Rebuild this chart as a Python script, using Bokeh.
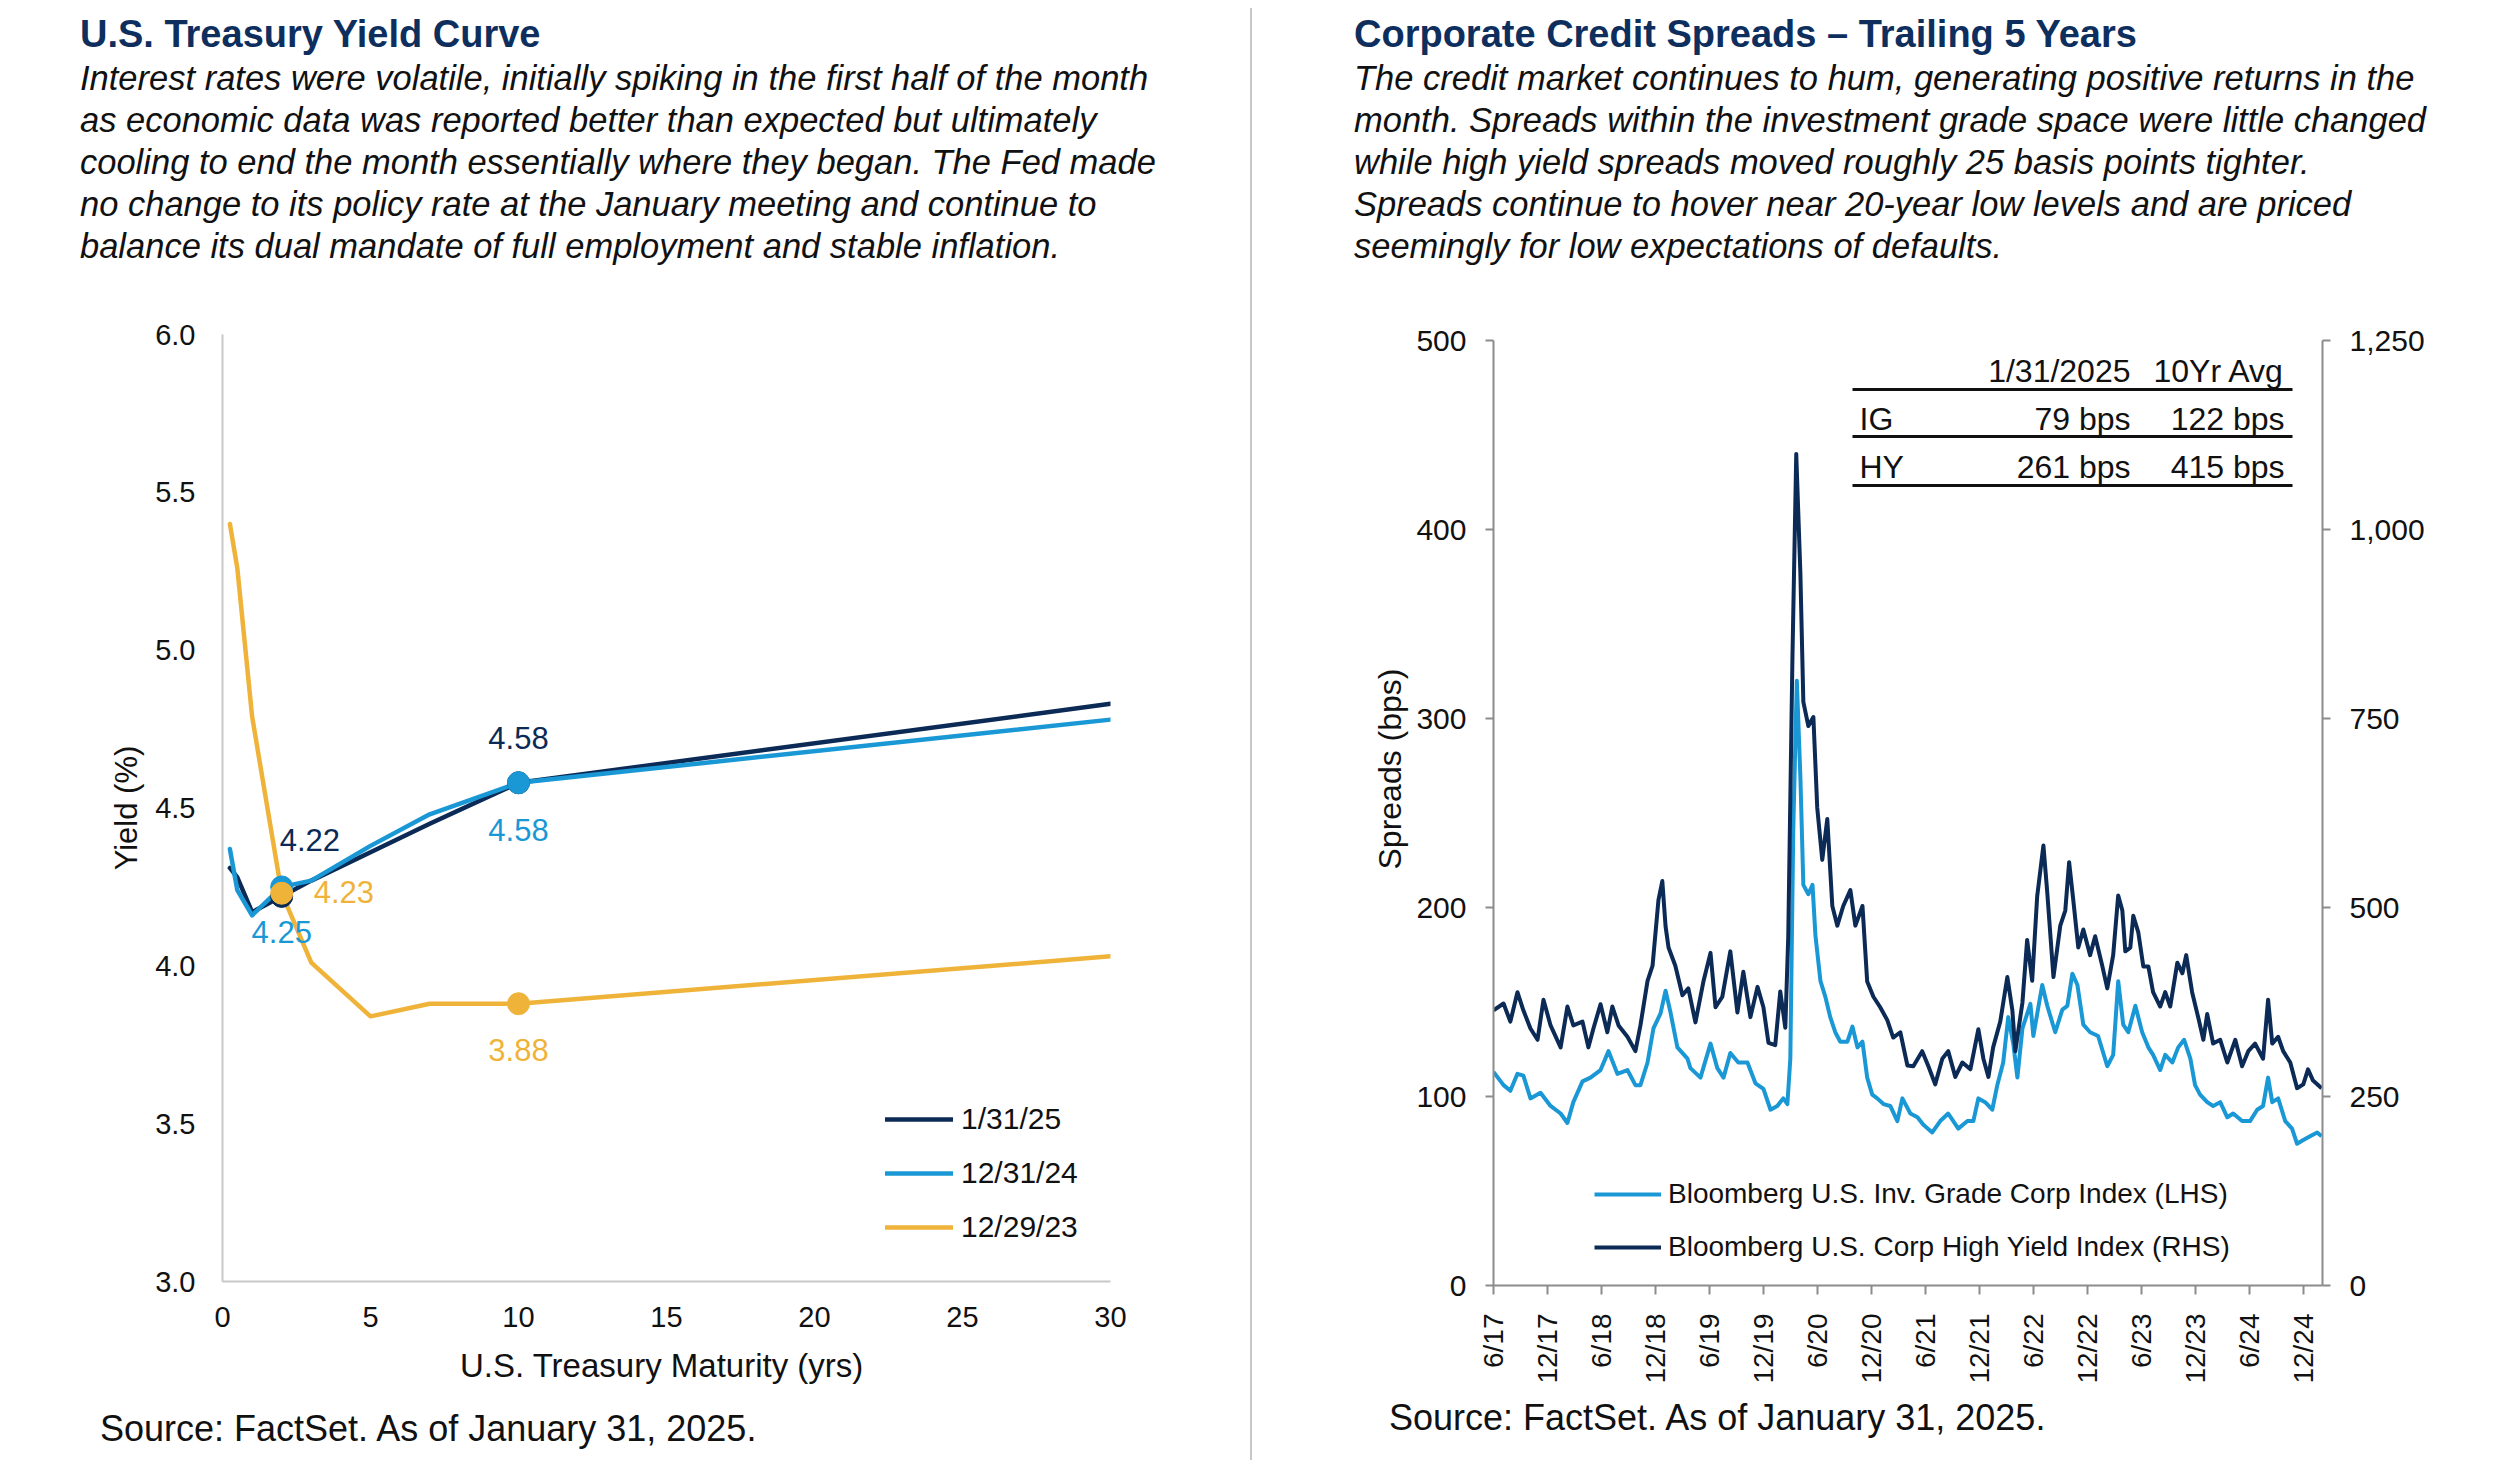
import math
import pandas as pd
from bokeh.plotting import figure
from bokeh.models import (Range1d, LinearAxis, Label, BoxAnnotation, Legend, LegendItem,
                          FixedTicker, NumeralTickFormatter, Div, Title, Spacer)
from bokeh.layouts import row, column
from bokeh.embed import file_html
from bokeh.resources import INLINE

FONT = "Liberation Sans"
NAVY = "#0B2A55"
LIGHT = "#1A98D5"
GOLD = "#EFB33A"
TITLE_C = "#0E2F5E"
TXT = "#111111"

# ---------------- Left chart data: U.S. Treasury yield curve ----------------
tenors = [0.25, 0.5, 1, 2, 3, 5, 7, 10, 30]
yield_jan25 = [4.31, 4.28, 4.17, 4.22, 4.27, 4.36, 4.45, 4.58, 4.83]
yield_dec24 = [4.37, 4.24, 4.16, 4.25, 4.27, 4.38, 4.48, 4.58, 4.78]
yield_dec23 = [5.40, 5.26, 4.79, 4.23, 4.01, 3.84, 3.88, 3.88, 4.03]
series_names = ["1/31/25", "12/31/24", "12/29/23"]
marker_tenors = [2, 10]
x_ticks_left = [0, 5, 10, 15, 20, 25, 30]
y_ticks_left = [3.0, 3.5, 4.0, 4.5, 5.0, 5.5, 6.0]

# ---------------- Right chart data: corporate credit spreads ----------------
hy_dates = ["2017-06-01", "2017-07-05", "2017-07-28", "2017-08-21", "2017-09-10", "2017-10-04",
            "2017-10-28", "2017-11-17", "2017-12-11", "2018-01-14", "2018-02-06", "2018-02-26",
            "2018-03-29", "2018-04-18", "2018-05-05", "2018-05-29", "2018-06-21", "2018-07-08",
            "2018-07-29", "2018-08-28", "2018-09-24", "2018-10-11", "2018-11-04", "2018-11-21",
            "2018-12-11", "2018-12-24", "2019-01-04", "2019-01-14", "2019-02-06", "2019-03-02",
            "2019-03-22", "2019-04-15", "2019-05-12", "2019-06-05", "2019-06-22", "2019-07-15",
            "2019-08-11", "2019-09-04", "2019-09-24", "2019-10-18", "2019-11-11", "2019-12-01",
            "2019-12-18", "2020-01-10", "2020-01-27", "2020-02-13", "2020-02-23", "2020-03-08",
            "2020-03-21", "2020-04-04", "2020-04-14", "2020-05-01", "2020-05-18", "2020-05-31",
            "2020-06-17", "2020-07-04", "2020-07-21", "2020-08-07", "2020-08-27", "2020-09-20",
            "2020-10-07", "2020-10-31", "2020-11-16", "2020-12-07", "2020-12-30", "2021-01-23",
            "2021-02-12", "2021-03-08", "2021-04-01", "2021-04-21", "2021-05-21", "2021-06-11",
            "2021-07-04", "2021-07-28", "2021-08-17", "2021-09-10", "2021-10-04", "2021-10-31",
            "2021-11-27", "2021-12-14", "2021-12-31", "2022-01-16", "2022-02-09", "2022-03-05",
            "2022-03-22", "2022-04-01", "2022-04-25", "2022-05-11", "2022-05-28", "2022-06-14",
            "2022-07-05", "2022-07-18", "2022-08-08", "2022-08-31", "2022-09-17", "2022-09-30",
            "2022-10-14", "2022-10-31", "2022-11-17", "2022-12-10", "2022-12-27", "2023-01-20",
            "2023-02-06", "2023-02-26", "2023-03-15", "2023-03-29", "2023-04-08", "2023-04-25",
            "2023-05-05", "2023-05-22", "2023-06-08", "2023-06-25", "2023-07-11", "2023-08-04",
            "2023-08-21", "2023-09-07", "2023-10-01", "2023-10-18", "2023-10-31", "2023-11-20",
            "2023-12-11", "2023-12-28", "2024-01-10", "2024-01-30", "2024-02-23", "2024-03-18",
            "2024-04-14", "2024-05-07", "2024-05-28", "2024-06-20", "2024-07-17", "2024-08-03",
            "2024-08-17", "2024-09-06", "2024-09-23", "2024-10-17", "2024-11-09", "2024-11-30",
            "2024-12-16", "2025-01-02", "2025-01-31"]
hy_spread = [364, 373, 349, 388, 364, 340,
             325, 378, 344, 315, 369, 344,
             349, 315, 340, 372, 335, 369,
             344, 329, 310, 344, 403, 423,
             510, 535, 475, 447, 423, 384,
             393, 348, 402, 440, 368, 382,
             442, 361, 415, 355, 395, 368,
             321, 318, 389, 341, 462, 827,
             1100, 942, 772, 740, 752, 632,
             563, 617, 502, 476, 502, 523,
             476, 502, 402, 382, 368, 351,
             328, 335, 291, 290, 310, 290,
             266, 300, 310, 276, 295, 286,
             339, 300, 276, 315, 349, 408,
             364, 310, 374, 457, 403, 515,
             582, 520, 408, 476, 496, 560,
             510, 447, 471, 437, 462, 423,
             393, 437, 516, 496, 442, 447,
             489, 467, 422, 422, 388, 369,
             388, 369, 427, 413, 437, 388,
             354, 325, 359, 320, 325, 295,
             325, 290, 310, 320, 300, 378,
             320, 329, 310, 295, 261, 266,
             286, 271, 261]

ig_dates = ["2017-06-01", "2017-07-05", "2017-07-28", "2017-08-21", "2017-09-10", "2017-10-04",
            "2017-11-07", "2017-12-11", "2018-01-14", "2018-02-06", "2018-02-26", "2018-03-29",
            "2018-04-25", "2018-05-29", "2018-06-25", "2018-07-25", "2018-08-28", "2018-09-24",
            "2018-10-11", "2018-11-04", "2018-11-24", "2018-12-18", "2019-01-04", "2019-01-20",
            "2019-02-13", "2019-03-19", "2019-03-29", "2019-05-02", "2019-06-05", "2019-06-28",
            "2019-07-19", "2019-08-11", "2019-09-07", "2019-10-08", "2019-11-04", "2019-12-01",
            "2019-12-25", "2020-01-17", "2020-02-06", "2020-02-20", "2020-03-01", "2020-03-11",
            "2020-03-23", "2020-04-04", "2020-04-14", "2020-05-01", "2020-05-15", "2020-05-25",
            "2020-06-11", "2020-06-27", "2020-07-14", "2020-07-31", "2020-08-17", "2020-09-10",
            "2020-09-27", "2020-10-14", "2020-10-31", "2020-11-16", "2020-12-03", "2020-12-20",
            "2021-01-10", "2021-02-02", "2021-02-26", "2021-03-15", "2021-04-11", "2021-05-05",
            "2021-05-25", "2021-06-24", "2021-07-21", "2021-08-17", "2021-09-20", "2021-10-21",
            "2021-11-10", "2021-11-27", "2021-12-20", "2022-01-13", "2022-01-30", "2022-02-19",
            "2022-03-08", "2022-03-25", "2022-04-08", "2022-04-25", "2022-05-22", "2022-06-01",
            "2022-07-01", "2022-07-18", "2022-08-14", "2022-09-07", "2022-09-24", "2022-10-11",
            "2022-10-28", "2022-11-17", "2022-12-10", "2023-01-06", "2023-02-06", "2023-02-26",
            "2023-03-15", "2023-04-01", "2023-04-18", "2023-05-12", "2023-06-04", "2023-06-25",
            "2023-07-11", "2023-08-04", "2023-08-21", "2023-09-14", "2023-10-04", "2023-10-24",
            "2023-11-14", "2023-11-30", "2023-12-17", "2024-01-10", "2024-01-30", "2024-02-23",
            "2024-03-18", "2024-04-07", "2024-05-07", "2024-06-03", "2024-06-27", "2024-07-17",
            "2024-08-03", "2024-08-17", "2024-09-06", "2024-09-30", "2024-10-23", "2024-11-09",
            "2024-11-30", "2024-12-23", "2025-01-16", "2025-01-31"]
ig_spread = [113, 106, 103, 112, 111, 99,
             102, 95, 91, 86, 97, 108,
             110, 114, 124, 112, 114, 106,
             106, 118, 136, 144, 156, 145,
             126, 120, 115, 110, 128, 115,
             110, 123, 118, 118, 107, 104,
             93, 95, 99, 96, 120, 242,
             320, 269, 212, 207, 212, 185,
             161, 153, 142, 134, 129, 129,
             137, 126, 129, 110, 101, 99,
             96, 95, 87, 99, 91, 89,
             85, 81, 87, 91, 83, 87,
             87, 99, 97, 93, 106, 118,
             142, 128, 110, 136, 149, 132,
             159, 148, 134, 146, 148, 165,
             159, 138, 134, 132, 116, 122,
             161, 138, 134, 148, 134, 126,
             122, 114, 122, 118, 126, 130,
             120, 106, 101, 97, 95, 97,
             89, 91, 87, 87, 93, 95,
             110, 97, 99, 87, 83, 75,
             77, 79, 81, 79]

x_tick_dates = ["2017-06-01", "2017-12-01", "2018-06-01", "2018-12-01", "2019-06-01", "2019-12-01",
                "2020-06-01", "2020-12-01", "2021-06-01", "2021-12-01", "2022-06-01", "2022-12-01",
                "2023-06-01", "2023-12-01", "2024-06-01", "2024-12-01"]
x_tick_labels = ["6/17", "12/17", "6/18", "12/18", "6/19", "12/19", "6/20", "12/20", "6/21",
                 "12/21", "6/22", "12/22", "6/23", "12/23", "6/24", "12/24"]
ig_ticks = [0, 100, 200, 300, 400, 500]
hy_ticks = [0, 250, 500, 750, 1000, 1250]

table_header = ["", "1/31/2025", "10Yr Avg"]
table_rows = [["IG", "79 bps", "122 bps"], ["HY", "261 bps", "415 bps"]]

left_title = "U.S. Treasury Yield Curve"
left_text = ["Interest rates were volatile, initially spiking in the first half of the month",
             "as economic data was reported better than expected but ultimately",
             "cooling to end the month essentially where they began. The Fed made",
             "no change to its policy rate at the January meeting and continue to",
             "balance its dual mandate of full employment and stable inflation."]
right_title = "Corporate Credit Spreads \u2013 Trailing 5 Years"
right_text = ["The credit market continues to hum, generating positive returns in the",
              "month. Spreads within the investment grade space were little changed",
              "while high yield spreads moved roughly 25 basis points tighter.",
              "Spreads continue to hover near 20-year low levels and are priced",
              "seemingly for low expectations of defaults."]
source_text = "Source: FactSet. As of January 31, 2025."

ASC = 0.8465  # baseline position within a line box of line-height 1 (Liberation Sans)


def abs_text(x, baseline, text, size, weight="normal", style="normal", color=TXT):
    top = baseline - ASC * size
    return (f'<div style="position:absolute;left:{x}px;top:{top:.1f}px;'
            f"font-family:'{FONT}';font-size:{size}px;line-height:1;font-weight:{weight};"
            f'font-style:{style};color:{color};white-space:nowrap;">{text}</div>')


def header_div(width, x0, title, lines):
    parts = [abs_text(x0, 39, title, 38, weight="bold", color=TITLE_C)]
    for i, ln in enumerate(lines):
        parts.append(abs_text(x0, 82 + 42 * i, ln, 34.5, style="italic"))
    html = (f'<div style="position:relative;width:{width}px;height:300px;">'
            + "".join(parts) + "</div>")
    return Div(text=html, width=width, height=300, margin=0)


def footer_div(width, height, x0, baseline):
    html = (f'<div style="position:relative;width:{width}px;height:{height}px;">'
            + abs_text(x0, baseline, source_text, 36) + "</div>")
    return Div(text=html, width=width, height=height, margin=0)


# ======================= LEFT FIGURE =======================
p1 = figure(width=1242, height=1102, output_backend="svg", toolbar_location=None,
            x_range=Range1d(0, 30), y_range=Range1d(3, 6), margin=0,
            min_border_left=214, min_border_right=140, min_border_top=26, min_border_bottom=129)
p1.outline_line_color = None
p1.grid.visible = False
p1.background_fill_color = "white"
p1.border_fill_color = "white"

for ax in (p1.xaxis[0], p1.yaxis[0]):
    ax.axis_line_color = "#C8C8C8"
    ax.axis_line_width = 2
    ax.major_tick_out = 0
    ax.major_tick_in = 0
    ax.minor_tick_out = 0
    ax.minor_tick_in = 0
    ax.major_label_text_font = FONT
    ax.major_label_text_font_size = "29px"
    ax.major_label_text_color = TXT
    ax.axis_label_text_font = FONT
    ax.axis_label_text_font_style = "normal"
    ax.axis_label_text_color = TXT
p1.xaxis.ticker = FixedTicker(ticks=x_ticks_left)
p1.yaxis.ticker = FixedTicker(ticks=y_ticks_left)
p1.yaxis.formatter = NumeralTickFormatter(format="0.0")
p1.xaxis.major_label_standoff = 25
p1.yaxis.major_label_standoff = 27
p1.xaxis.axis_label = "U.S. Treasury  Maturity (yrs)"
p1.xaxis.axis_label_text_font_size = "33px"
p1.xaxis.axis_label_standoff = 17
p1.yaxis.axis_label = "Yield (%)"
p1.yaxis.axis_label_text_font_size = "31px"
p1.yaxis.axis_label_standoff = 8

curves = [(yield_jan25, NAVY), (yield_dec24, LIGHT), (yield_dec23, GOLD)]
curve_r = []
for ys, col in curves:
    curve_r.append(p1.line(tenors, ys, line_color=col, line_width=4.5,
                           line_join="round", line_cap="round"))
for ys, col in curves:
    my = [ys[tenors.index(t)] for t in marker_tenors]
    p1.scatter(marker_tenors, my, size=22, fill_color=col, line_color=col)


def val(ys, t):
    return ys[tenors.index(t)]


lab_specs = [
    (2, val(yield_jan25, 2), NAVY, "left", -2, 56),
    (2, val(yield_dec23, 2), GOLD, "left", 32, 1),
    (2, val(yield_dec24, 2), LIGHT, "center", 0, -45),
    (10, val(yield_jan25, 10), NAVY, "center", 0, 45),
    (10, val(yield_dec24, 10), LIGHT, "center", 0, -47),
    (10, val(yield_dec23, 10), GOLD, "center", 0, -46),
]
for x, y, col, al, xo, yo in lab_specs:
    p1.add_layout(Label(x=x, y=y, text=f"{y:.2f}", x_offset=xo, y_offset=yo,
                        text_font=FONT, text_font_size="31px", text_color=col,
                        text_align=al, text_baseline="middle"))

leg1 = Legend(items=[LegendItem(label=n, renderers=[r]) for n, r in zip(series_names, curve_r)],
              location=(663, 37), orientation="vertical", glyph_width=68, glyph_height=34,
              label_height=34, spacing=20, label_standoff=8, padding=0, margin=0,
              border_line_color=None, background_fill_alpha=0,
              label_text_font=FONT, label_text_font_size="30px", label_text_color=TXT)
p1.add_layout(leg1)

left_col = column(header_div(1242, 72, left_title, left_text), p1,
                  footer_div(1242, 50, 92, 31), spacing=0, margin=0)

# ======================= RIGHT FIGURE =======================
x0 = pd.Timestamp("2017-06-01")
x1 = pd.Timestamp("2025-02-03")
p2 = figure(width=1240, height=1092, output_backend="svg", toolbar_location=None,
            x_axis_type="datetime", x_range=Range1d(x0, x1), y_range=Range1d(0, 500), margin=0,
            min_border_left=241, min_border_right=170, min_border_top=32, min_border_bottom=115)
p2.outline_line_color = None
p2.grid.visible = False
p2.background_fill_color = "white"
p2.border_fill_color = "white"
p2.extra_y_ranges = {"hy": Range1d(0, 1250)}
p2.add_layout(LinearAxis(y_range_name="hy"), "right")

ig_x = pd.to_datetime(ig_dates)
hy_x = pd.to_datetime(hy_dates)
ig_r = p2.line(ig_x, ig_spread, line_color=LIGHT, line_width=4, line_join="round")
hy_r = p2.line(hy_x, hy_spread, line_color=NAVY, line_width=4, line_join="round", y_range_name="hy")

tick_ms = [int(pd.Timestamp(d).value // 10**6) for d in x_tick_dates]
p2.xaxis.ticker = FixedTicker(ticks=tick_ms)
p2.xaxis.major_label_overrides = {k: v for k, v in zip(tick_ms, x_tick_labels)}
p2.xaxis.major_label_orientation = math.pi / 2
p2.yaxis[0].ticker = FixedTicker(ticks=ig_ticks)
p2.yaxis[1].ticker = FixedTicker(ticks=hy_ticks)
p2.yaxis[1].formatter = NumeralTickFormatter(format="0,0")
for ax in list(p2.xaxis) + list(p2.yaxis):
    ax.axis_line_color = "#8C8C8C"
    ax.axis_line_width = 2
    ax.major_tick_line_color = "#8C8C8C"
    ax.major_tick_line_width = 2
    ax.major_tick_in = 0
    ax.major_tick_out = 8
    ax.minor_tick_out = 0
    ax.minor_tick_in = 0
    ax.major_label_text_font = FONT
    ax.major_label_text_color = TXT
    ax.major_label_text_font_size = "30px"
    ax.major_label_standoff = 19
p2.xaxis.major_tick_out = 9
p2.xaxis.major_label_text_font_size = "28px"
p2.xaxis.major_label_standoff = 19

p2.add_layout(Title(text="Spreads (bps)", align="left", offset=416, standoff=12,
                    text_font=FONT, text_font_size="32px", text_font_style="normal",
                    text_color=TXT), "left")

leg2 = Legend(items=[LegendItem(label="Bloomberg U.S. Inv. Grade Corp Index (LHS)", renderers=[ig_r]),
                     LegendItem(label="Bloomberg U.S. Corp High Yield Index (RHS)", renderers=[hy_r])],
              location=(101, 22), orientation="vertical", glyph_width=67, glyph_height=32,
              label_height=32, spacing=21, label_standoff=7, padding=0, margin=0,
              border_line_color=None, background_fill_alpha=0,
              label_text_font=FONT, label_text_font_size="28px", label_text_color=TXT)
p2.add_layout(leg2)

# summary table, canvas units of the right figure
col_x = [607, 878, 1032]
for j in (1, 2):
    p2.add_layout(Label(x=col_x[j], y=62, x_units="canvas", y_units="canvas", text=table_header[j],
                        text_font=FONT, text_font_size="32px", text_color=TXT,
                        text_align="right", text_baseline="alphabetic"))
for i, r in enumerate(table_rows):
    for j, al in ((0, "left"), (1, "right"), (2, "right")):
        p2.add_layout(Label(x=col_x[j], y=110 + 48 * i, x_units="canvas", y_units="canvas",
                            text=r[j], text_font=FONT, text_font_size="32px", text_color=TXT,
                            text_align=al, text_baseline="alphabetic"))
for yl in (81, 128, 177):
    p2.add_layout(BoxAnnotation(left=600, right=1040, top=yl - 1.5, bottom=yl + 1.5,
                                left_units="canvas", right_units="canvas",
                                top_units="canvas", bottom_units="canvas",
                                fill_color="#111111", fill_alpha=1, line_color=None))

right_col = column(header_div(1240, 102, right_title, right_text), p2,
                   footer_div(1240, 60, 137, 30), spacing=0, margin=0)

divider = Div(width=2, height=1452, margin=0, styles={"background-color": "#C8C8C8"})
body = row(Spacer(width=8, height=1452, margin=0), left_col, divider, right_col, spacing=0, margin=0)
layout = column(Spacer(width=2500, height=8, margin=0), body, spacing=0, margin=0)

with open("out.html", "w") as f:
    f.write(file_html(layout, INLINE))
